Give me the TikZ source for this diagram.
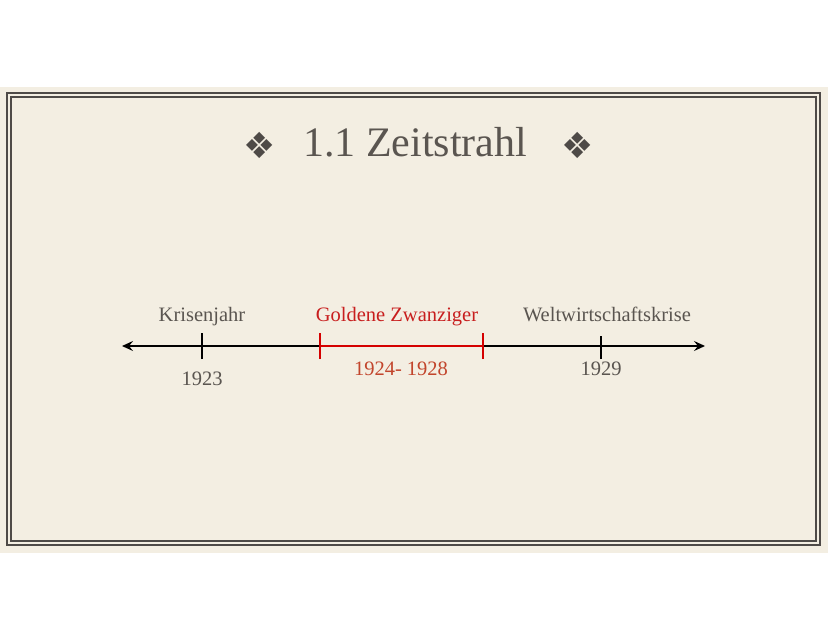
\documentclass[tikz,border=0pt]{standalone}
\usepackage{fontspec}
\setmainfont{Liberation Serif}
\newfontfamily\symfont{DejaVu Sans}
\usetikzlibrary{arrows.meta}
\definecolor{paper}{HTML}{F3EEE2}
\definecolor{frame}{HTML}{4E4A47}
\definecolor{txt}{HTML}{5A5550}
\definecolor{gold}{HTML}{C81E1E}
\definecolor{goldyr}{HTML}{C2452C}
\definecolor{redline}{HTML}{D40000}
\tikzset{
  lbl/.style={text=txt, font=\fontsize{20.5}{22}\selectfont, inner sep=0pt, anchor=base},
  redlbl/.style={lbl, text=gold},
  tick/.style={line width=2.2pt, draw=black},
  redtick/.style={line width=2pt, draw=redline},
  axis/.style={line width=2.2pt, draw=black},
  orn/.style={text=frame, font=\symfont\fontsize{36}{38}\selectfont, inner sep=0pt}
}
\begin{document}
\begin{tikzpicture}[x=1pt,y=-1pt]
\useasboundingbox (0,0) rectangle (828,640);
\fill[white] (0,0) rectangle (828,640);
\fill[paper] (0,87) rectangle (828,553);
\draw[frame, line width=2pt] (7,93) rectangle (820,545);
\draw[frame, line width=1.3pt] (11,97) rectangle (816,541);
% title
\node[text=txt, font=\fontsize{42}{46}\selectfont, inner sep=0pt, anchor=base] (title) at (415,156) {1.1 Zeitstrahl};
\node[orn] (ornl) at (260,145) {❖};
\node[orn] (ornr) at (578,145) {❖};
% axis coordinates
\coordinate (L) at (122,346);
\coordinate (R) at (705,346);
\coordinate (t1) at (202,346);
\coordinate (g1) at (320,346);
\coordinate (g2) at (483,346);
\coordinate (t3) at (601,346);
\draw[axis, -{Stealth[length=11pt,width=10pt,inset=4pt]}] (g2) -- (R);
\draw[axis, -{Stealth[length=11pt,width=10pt,inset=4pt]}] (g1) -- (L);
\draw[redtick, line width=2.6pt] (g1) -- (g2);
\draw[tick] ([yshift=-13pt]t1) -- ([yshift=13pt]t1);
\draw[tick] ([yshift=-13pt]t3) -- ([yshift=10pt]t3);
\draw[redtick] ([yshift=-13pt]g1) -- ([yshift=13pt]g1);
\draw[redtick] ([yshift=-13pt]g2) -- ([yshift=13pt]g2);
% labels
\node[lbl] (kr) at (202,321) {Krisenjahr};
\node[redlbl] (gz) at (397,321) {Goldene Zwanziger};
\node[lbl] (ww) at (607,321) {Weltwirtschaftskrise};
\node[lbl] (y1) at (202,385) {1923};
\node[lbl, text=goldyr] (y2) at (401,375) {1924- 1928};
\node[lbl] (y3) at (601,375) {1929};
\end{tikzpicture}
\end{document}
